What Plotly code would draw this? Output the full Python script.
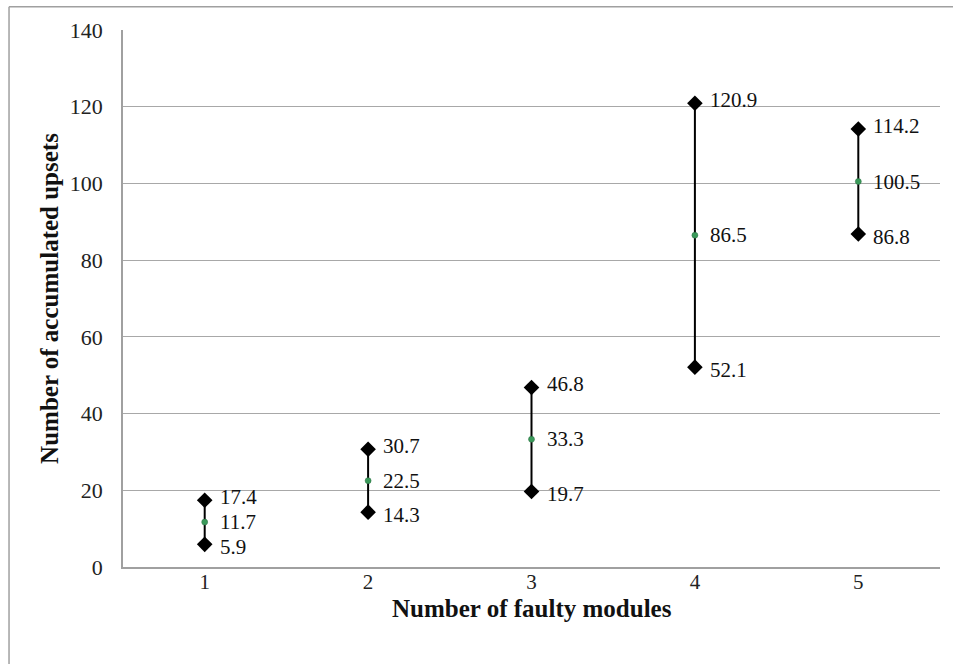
import plotly.graph_objects as go

categories = [1, 2, 3, 4, 5]
max_vals = [17.4, 30.7, 46.8, 120.9, 114.2]
mean_vals = [11.7, 22.5, 33.3, 86.5, 100.5]
min_vals = [5.9, 14.3, 19.7, 52.1, 86.8]
y_ticks = [0, 20, 40, 60, 80, 100, 120, 140]

FONT = "Liberation Serif, Times New Roman, serif"

line_x, line_y = [], []
for c, lo, hi in zip(categories, min_vals, max_vals):
    line_x += [c, c, None]
    line_y += [lo, hi, None]

fig = go.Figure()
fig.add_trace(go.Scatter(x=line_x, y=line_y, mode="lines",
                         line=dict(color="black", width=2), hoverinfo="skip"))
fig.add_trace(go.Scatter(x=categories, y=max_vals, mode="markers",
                         marker=dict(symbol="diamond", size=12, color="black")))
fig.add_trace(go.Scatter(x=categories, y=min_vals, mode="markers",
                         marker=dict(symbol="diamond", size=12, color="black")))
fig.add_trace(go.Scatter(x=categories, y=mean_vals, mode="markers",
                         marker=dict(symbol="circle", size=6, color="#3a9a5a",
                                     line=dict(color="#2f6f45", width=0.5))))

for series, dy in ((max_vals, 3), (mean_vals, 0), (min_vals, -3)):
    for c, v in zip(categories, series):
        fig.add_annotation(x=c, y=v, text=f"{v:.1f}", showarrow=False,
                           xanchor="left", yanchor="middle", xshift=14,
                           yshift=dy, borderpad=0,
                           font=dict(family=FONT, size=21, color="#111"))

fig.add_annotation(xref="paper", yref="paper", x=0.5, y=-0.0775,
                   text="<b>Number of faulty modules</b>", showarrow=False,
                   xanchor="center", yanchor="middle", borderpad=0,
                   font=dict(family=FONT, size=25, color="#111"))

fig.update_layout(
    width=953, height=664,
    margin=dict(l=123, r=13, t=30, b=97),
    paper_bgcolor="white", plot_bgcolor="white",
    showlegend=False,
    font=dict(family=FONT, size=22, color="#222"),
    xaxis=dict(range=[0.5, 5.5], tickvals=categories, showgrid=False,
               showline=True, linecolor="#a0a0a0", linewidth=1.5,
               ticks="", zeroline=False, ticklabelstandoff=-5,
               tickfont=dict(family=FONT, size=21, color="#222")),
    yaxis=dict(range=[0, 140], tickvals=y_ticks, showgrid=True,
               gridcolor="#a8a8a8", gridwidth=1.2,
               showline=True, linecolor="#a0a0a0", linewidth=1.5,
               ticks="", zeroline=False, ticklabelstandoff=14,
               tickfont=dict(family=FONT, size=22, color="#222"),
               title=dict(text="<b>Number of accumulated upsets</b>",
                          font=dict(family=FONT, size=25, color="#111"),
                          standoff=4)),
    shapes=[
        dict(type="line", xref="paper", yref="paper", x0=-0.1395, x1=1.05,
             y0=1.0435, y1=1.0435, line=dict(color="#a0a0a0", width=1.5)),
        dict(type="line", xref="paper", yref="paper", x0=-0.1395, x1=-0.1395,
             y0=1.0435, y1=-0.3, line=dict(color="#a0a0a0", width=1.5)),
    ],
)
fig.write_html("out.html")
